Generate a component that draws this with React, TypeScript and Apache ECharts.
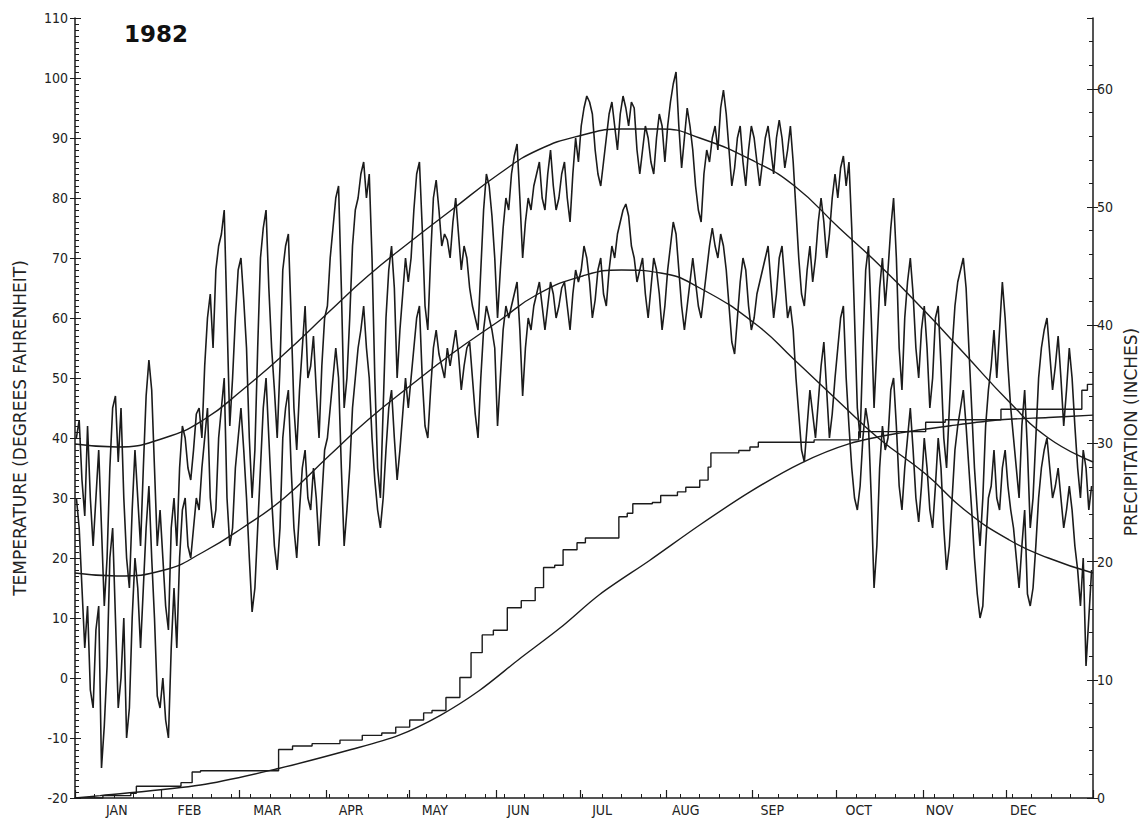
import React, { useEffect, useRef } from "react";
import * as echarts from "echarts";

// ---- axis text ----
const monthNames = ["JAN", "FEB", "MAR", "APR", "MAY", "JUN", "JUL", "AUG", "SEP", "OCT", "NOV", "DEC"];
const monthLabelDays = [15, 41, 69, 99, 129, 159, 189, 219, 250, 281, 310, 340];
const monthTickDays = [0, 31, 59, 90, 120, 151, 181, 212, 243, 273, 304, 334, 365];
const weekTickDays = [7, 14, 21, 28, 35, 42, 49, 56, 63, 70, 77, 84, 91, 98, 105, 112, 119, 126, 133, 140, 147, 154, 161, 168, 175, 182, 189, 196, 203, 210, 217, 224, 231, 238, 245, 252, 259, 266, 273, 280, 287, 294, 301, 308, 315, 322, 329, 336, 343, 350, 357];
const chartTitle = "1982";
const tempAxisName = "TEMPERATURE (DEGREES FAHRENHEIT)";
const precipAxisName = "PRECIPITATION (INCHES)";

// ---- daily maximum temperature (F), Jan 1 .. Dec 31 ----
const dailyMax = [
  40, 43, 33, 27, 42, 30, 22, 30, 38, 25, 12, 20, 35, 45, 47, 36, 45, 30, 20, 15, 28, 38, 30, 22, 35, 47, 53, 48, 35, 22, 28,
  20, 12, 8, 25, 30, 22, 35, 42, 40, 35, 33, 38, 44, 45, 40, 52, 60, 64, 55, 68, 72, 74, 78, 60, 42, 50, 60, 68,
  70, 63, 55, 40, 30, 38, 55, 70, 75, 78, 65, 55, 48, 40, 52, 68, 72, 74, 60, 45, 38, 48, 55, 62, 50, 52, 57, 48, 40, 52, 60,
  62, 70, 75, 80, 82, 65, 45, 50, 60, 72, 78, 80, 84, 86, 80, 84, 70, 50, 35, 30, 45, 60, 68, 72, 65, 50, 58, 64, 70, 66,
  70, 78, 84, 86, 75, 62, 58, 70, 80, 83, 78, 72, 74, 73, 70, 76, 80, 74, 68, 72, 70, 65, 62, 60, 58, 68, 78, 84, 82, 77, 70,
  60, 68, 75, 80, 78, 84, 87, 89, 80, 70, 76, 80, 78, 82, 84, 86, 80, 78, 84, 88, 82, 78, 80, 84, 86, 80, 76, 84, 90, 86,
  92, 95, 97, 96, 94, 88, 84, 82, 86, 90, 94, 96, 92, 88, 94, 97, 95, 92, 96, 95, 88, 84, 88, 92, 90, 86, 84, 90, 94, 92, 86,
  92, 96, 99, 101, 92, 85, 90, 95, 92, 88, 82, 78, 76, 84, 88, 86, 90, 92, 88, 95, 98, 94, 88, 82, 85, 90, 92, 86, 82, 88, 92,
  90, 86, 82, 86, 90, 92, 88, 84, 90, 93, 90, 85, 88, 92, 86, 78, 70, 64, 62, 68, 72, 66, 70, 76, 80, 76, 70, 74, 80, 84,
  80, 85, 87, 82, 86, 75, 60, 45, 40, 55, 68, 72, 60, 45, 55, 65, 70, 62, 68, 75, 80, 70, 55, 48, 60, 66, 70, 64, 55, 50, 58,
  62, 55, 45, 50, 60, 62, 52, 40, 35, 45, 55, 62, 66, 68, 70, 65, 55, 45, 35, 28, 22, 30, 42, 48, 52, 58, 50, 58, 66, 60,
  52, 45, 40, 35, 30, 42, 48, 38, 25, 30, 40, 50, 55, 58, 60, 54, 48, 52, 57, 50, 42, 48, 55, 50, 42, 35, 30, 38, 35, 28, 32,
];

// ---- daily minimum temperature (F), Jan 1 .. Dec 31 ----
const dailyMin = [
  30, 25, 15, 5, 12, -2, -5, 8, 12, -15, -8, 2, 20, 25, 10, -5, 0, 10, -10, -5, 10, 20, 15, 5, 15, 25, 32, 20, 10, -3, -5,
  0, -7, -10, 5, 15, 5, 20, 28, 30, 22, 20, 25, 30, 28, 35, 40, 45, 30, 25, 28, 40, 45, 50, 30, 22, 25, 35, 40,
  45, 38, 30, 20, 11, 15, 25, 35, 45, 50, 40, 30, 22, 18, 25, 40, 45, 48, 35, 25, 20, 28, 35, 38, 30, 28, 35, 30, 22, 30, 38,
  40, 45, 50, 55, 50, 35, 22, 28, 35, 45, 50, 55, 58, 62, 55, 50, 40, 33, 28, 25, 30, 38, 45, 48, 40, 33, 38, 44, 50, 45,
  50, 55, 60, 62, 50, 42, 40, 48, 55, 58, 54, 52, 50, 55, 52, 55, 58, 54, 48, 52, 55, 56, 50, 44, 40, 50, 58, 62, 60, 58, 55,
  42, 50, 58, 62, 60, 62, 64, 66, 58, 47, 55, 60, 58, 62, 64, 66, 62, 58, 62, 66, 64, 60, 62, 65, 66, 62, 58, 64, 68, 66,
  68, 72, 70, 66, 60, 63, 68, 70, 64, 62, 68, 72, 70, 74, 76, 78, 79, 77, 72, 70, 66, 68, 70, 64, 60, 65, 70, 68, 64, 58, 62,
  68, 72, 76, 74, 68, 62, 58, 62, 66, 70, 66, 62, 60, 64, 68, 72, 75, 72, 70, 74, 72, 68, 62, 56, 54, 60, 66, 70, 68, 62, 58,
  60, 64, 66, 68, 70, 72, 66, 60, 64, 70, 72, 66, 60, 62, 58, 50, 44, 38, 36, 42, 48, 44, 40, 46, 52, 56, 48, 40, 44, 50,
  55, 60, 62, 50, 42, 35, 30, 28, 32, 40, 45, 42, 30, 15, 22, 35, 42, 38, 40, 48, 50, 42, 32, 28, 35, 40, 45, 38, 30, 26, 32,
  40, 35, 28, 25, 32, 40, 35, 25, 18, 22, 30, 38, 42, 45, 48, 42, 35, 28, 20, 14, 10, 12, 22, 30, 32, 38, 30, 28, 35, 38,
  32, 28, 25, 20, 15, 22, 28, 14, 12, 15, 22, 30, 35, 38, 40, 35, 30, 32, 35, 30, 25, 28, 32, 28, 22, 18, 12, 20, 2, 10, 18,
];

// ---- normal temperatures (F) ----
const normalDays = [0, 15, 32, 46, 60, 75, 91, 105, 121, 135, 152, 166, 182, 196, 210, 224, 244, 258, 274, 288, 305, 319, 335, 349, 365];
const normalMax = [39, 38.5, 40, 43, 48, 54, 61, 67, 73, 78, 84, 88, 90.5, 91.5, 91.5, 90, 86, 82, 75, 69, 61, 54, 46, 40, 36];
const normalMin = [17.5, 17, 18, 21, 25, 30, 37, 43, 49, 54, 59.5, 64, 67, 68, 67.5, 65, 59, 53, 46, 40, 34, 28, 23, 20, 17.5];

// ---- cumulative precipitation (inches) ----
const precipDays = [0, 10, 20, 22, 38, 42, 45, 73, 78, 85, 95, 103, 110, 115, 120, 125, 128, 133, 138, 142, 146, 150, 155, 160, 165, 168, 172, 175, 180, 183, 195, 198, 200, 207, 210, 216, 219, 224, 227, 228, 238, 242, 245, 265, 281, 305, 312, 332, 361, 363, 365];
const precipTotal = [0, 0.2, 0.4, 1.0, 1.3, 2.2, 2.3, 4.1, 4.4, 4.6, 4.9, 5.3, 5.5, 6.0, 6.6, 7.2, 7.4, 8.5, 10.2, 12.3, 13.8, 14.2, 16.1, 16.7, 17.8, 19.5, 19.7, 21.0, 21.6, 22.0, 23.8, 24.1, 24.9, 25.0, 25.6, 25.9, 26.3, 26.9, 28.0, 29.2, 29.4, 29.7, 30.1, 30.3, 31.0, 31.8, 32.0, 32.9, 34.5, 35.0, 35.0];
const normalPrecipDays = [0, 9, 45, 73, 99, 116, 131, 145, 159, 174, 188, 206, 224, 242, 260, 278, 296, 314, 332, 349, 365];
const normalPrecip = [0, 0.2, 1.1, 2.5, 4.1, 5.3, 7.0, 9.1, 11.7, 14.4, 17.2, 20.1, 23.1, 25.9, 28.3, 30.0, 30.9, 31.5, 32.0, 32.2, 32.4];

const INK = "#1b1b1b";
const FONT = "'DejaVu Sans Condensed', 'DejaVu Sans', sans-serif";

export default function App() {
  const ref = useRef<HTMLDivElement>(null);

  useEffect(() => {
    if (!ref.current) return;
    const chart = echarts.init(ref.current, undefined, { renderer: "svg" });

    const pair = (xs: number[], ys: number[]) => xs.map((x, i) => [x, ys[i]]);
    const daily = (ys: number[]) => ys.map((v, i) => [i + 0.5, v]);
    const lineStyle = (w: number) => ({ color: INK, width: w });

    const xBase = {
      type: "value",
      min: 0,
      max: 365,
      position: "bottom",
      splitLine: { show: false },
    };

    chart.setOption({
      animation: false,
      backgroundColor: "#ffffff",
      grid: { left: 75, right: 52, top: 18, bottom: 24, containLabel: false },
      graphic: [
        {
          type: "text",
          left: 124,
          top: 22,
          style: { text: chartTitle, fontFamily: "'DejaVu Sans', sans-serif", fontWeight: "bold", fontSize: 23, fill: "#111" },
        },
        {
          type: "text",
          x: 20,
          y: 428,
          rotation: Math.PI / 2,
          style: { text: tempAxisName, fontFamily: "'DejaVu Sans', sans-serif", fontSize: 17, fill: "#222", align: "center", verticalAlign: "middle" },
        },
        {
          type: "text",
          x: 1131,
          y: 432,
          rotation: Math.PI / 2,
          style: { text: precipAxisName, fontFamily: "'DejaVu Sans', sans-serif", fontSize: 17, fill: "#222", align: "center", verticalAlign: "middle" },
        },
      ],
      xAxis: [
        {
          ...xBase,
          axisLine: { show: true, onZero: false, lineStyle: { color: INK, width: 1.5 } },
          axisTick: { show: true, inside: true, length: 8, customValues: monthTickDays, lineStyle: { color: INK, width: 1.2 } },
          axisLabel: {
            show: true,
            customValues: monthLabelDays,
            margin: 5,
            formatter: (v: number) => monthNames[monthLabelDays.indexOf(v)] ?? "",
            fontFamily: FONT,
            fontSize: 14,
            color: "#222",
          },
        },
        {
          ...xBase,
          axisLine: { show: false, onZero: false },
          axisTick: { show: true, inside: true, length: 4, customValues: weekTickDays, lineStyle: { color: INK, width: 1 } },
          axisLabel: { show: false },
        },
      ],
      yAxis: [
        {
          type: "value",
          min: -20,
          max: 110,
          interval: 10,
          position: "left",
          axisLine: { show: true, onZero: false, lineStyle: { color: INK, width: 1.5 } },
          axisTick: { show: true, inside: false, length: 5, lineStyle: { color: INK } },
          axisLabel: { fontFamily: FONT, fontSize: 14, color: "#222", margin: 7 },
          splitLine: { show: false },
        },
        {
          type: "value",
          min: 0,
          max: 66,
          interval: 10,
          position: "right",
          axisLine: { show: true, onZero: false, lineStyle: { color: INK, width: 1.5 } },
          axisTick: { show: true, inside: false, length: 5, lineStyle: { color: INK } },
          axisLabel: { fontFamily: FONT, fontSize: 14, color: "#222", margin: 4, showMaxLabel: false },
          splitLine: { show: false },
        },
        {
          type: "value",
          min: -20,
          max: 110,
          interval: 10,
          position: "left",
          axisLine: { show: false, onZero: false },
          axisTick: { show: true, inside: true, length: 6, lineStyle: { color: INK } },
          minorTick: { show: true, splitNumber: 10, length: 4, lineStyle: { color: INK } },
          axisLabel: { show: false },
          splitLine: { show: false },
        },
        {
          type: "value",
          min: 0,
          max: 66,
          interval: 10,
          position: "right",
          axisLine: { show: false, onZero: false },
          axisTick: { show: true, inside: true, length: 6, lineStyle: { color: INK } },
          minorTick: { show: true, splitNumber: 5, length: 4, lineStyle: { color: INK } },
          axisLabel: { show: false },
          splitLine: { show: false },
        },
      ],
      series: [
        { name: "Daily maximum", type: "line", xAxisIndex: 0, yAxisIndex: 0, data: daily(dailyMax), showSymbol: false, lineStyle: lineStyle(1.6) },
        { name: "Daily minimum", type: "line", xAxisIndex: 0, yAxisIndex: 0, data: daily(dailyMin), showSymbol: false, lineStyle: lineStyle(1.6) },
        { name: "Normal maximum", type: "line", xAxisIndex: 0, yAxisIndex: 0, data: pair(normalDays, normalMax), smooth: true, showSymbol: false, lineStyle: lineStyle(1.4) },
        { name: "Normal minimum", type: "line", xAxisIndex: 0, yAxisIndex: 0, data: pair(normalDays, normalMin), smooth: true, showSymbol: false, lineStyle: lineStyle(1.4) },
        { name: "Precipitation", type: "line", xAxisIndex: 0, yAxisIndex: 1, data: pair(precipDays, precipTotal), step: "end", showSymbol: false, lineStyle: lineStyle(1.4) },
        { name: "Normal precipitation", type: "line", xAxisIndex: 0, yAxisIndex: 1, data: pair(normalPrecipDays, normalPrecip), smooth: 0.3, showSymbol: false, lineStyle: lineStyle(1.4) },
      ],
    });

    return () => chart.dispose();
  }, []);

  return <div ref={ref} style={{ position: "fixed", left: 0, top: 0, width: 1145, height: 822, background: "#fff" }} />;
}
